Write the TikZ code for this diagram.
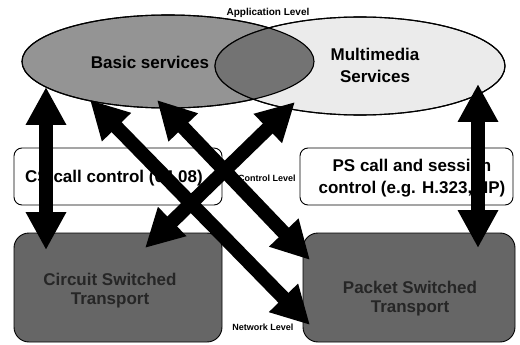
\documentclass[tikz,border=0pt]{standalone}
\usepackage{fontspec}
\setmainfont{Liberation Sans}
\usetikzlibrary{arrows.meta}

\begin{document}
\begin{tikzpicture}[x=1pt,y=-1pt,
  lvl/.style={font=\bfseries\fontsize{9}{10}\selectfont, inner sep=0pt},
  txt/.style={font=\bfseries\fontsize{17}{22}\selectfont, align=center, inner sep=0pt},
  ctrlbox/.style={draw, rounded corners=8pt, fill=white, line width=0.9pt},
  netbox/.style={draw, rounded corners=15pt, fill=black!60, line width=0.9pt},
  dblarrow/.style={line width=14pt, {Triangle[length=38pt,width=38pt]}-{Triangle[length=38pt,width=38pt]}}]
\useasboundingbox (0,0) rectangle (520,345);
% application level
\draw [line width=1.1pt, fill=black!42] (168,61.5) ellipse [x radius=146, y radius=46.5];
\draw [line width=1.1pt, fill=black!8] (360,66) ellipse [x radius=145, y radius=49];
\begin{scope}
\clip (168,61.5) ellipse [x radius=146, y radius=46.5];
\fill [black!55] (360,66) ellipse [x radius=145, y radius=49];
\end{scope}
\draw [line width=1.1pt] (168,61.5) ellipse [x radius=146, y radius=46.5];
\draw [line width=1.1pt] (360,66) ellipse [x radius=145, y radius=49];
\path (150,62) node[txt] (basic) {Basic services};
\path (375,65) node[txt] (mm) {Multimedia\\Services};
\path (268,13) node[lvl, font=\bfseries\fontsize{10}{11}\selectfont] (applvl) {Application Level};
% control level
\path (118,176.5) node[ctrlbox, minimum width=208pt, minimum height=57pt] (cscc) {};
\path (406.5,176.5) node[ctrlbox, minimum width=213pt, minimum height=57pt] (pscc) {};
\path (114,178) node[txt] (csccl) {CS call control (04.08)};
\path (412,178.5) node[txt] (psccl) {PS call and session\\control (e.g. H.323,SIP)};
\path (267,178) node[lvl] (ctrllvl) {Control Level};
% network level
\path (118,287.5) node[netbox, minimum width=208pt, minimum height=109pt] (cst) {};
\path (409,287.5) node[netbox, minimum width=212pt, minimum height=109pt] (pst) {};
\path (110,291) node[txt, text=black!85, font=\bfseries\fontsize{17}{19}\selectfont] (cstl) {Circuit Switched\\Transport};
\path (410,299) node[txt, text=black!85, font=\bfseries\fontsize{17}{19}\selectfont] (pstl) {Packet Switched\\Transport};
\path (263,327) node[lvl] (netlvl) {Network Level};
% arrows
\coordinate (l1) at (46,87);
\coordinate (l2) at (46,250);
\coordinate (r1) at (478,84);
\coordinate (r2) at (478,248);
\coordinate (a1) at (90,100);
\coordinate (a2) at (310,325);
\coordinate (b1) at (157,100);
\coordinate (b2) at (310,260);
\coordinate (c1) at (145,248);
\coordinate (c2) at (295,102);
\draw [dblarrow] (l1) -- (l2);
\draw [dblarrow] (r1) -- (r2);
\draw [dblarrow] (a1) -- (a2);
\draw [dblarrow] (b1) -- (b2);
\draw [dblarrow] (c1) -- (c2);
\end{tikzpicture}
\end{document}
